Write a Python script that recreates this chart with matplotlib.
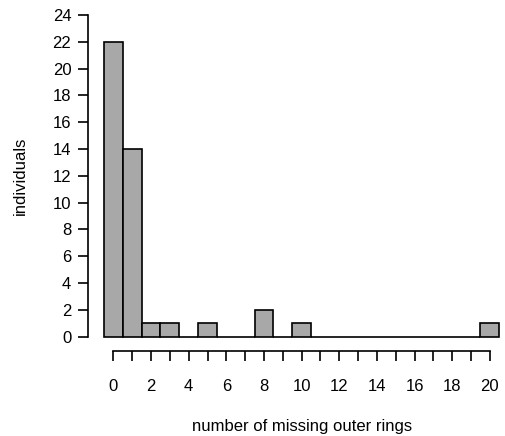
import matplotlib
matplotlib.use("Agg")
import matplotlib.pyplot as plt

# number of missing outer rings (bin centres) and individuals per bin
rings = list(range(21))
individuals = [22, 14, 1, 1, 0, 1, 0, 0, 2, 0, 1, 0, 0, 0, 0, 0, 0, 0, 0, 0, 1]
y_ticks = list(range(0, 25, 2))
x_ticks = list(range(0, 21))
x_labels = [str(v) if v % 2 == 0 else "" for v in x_ticks]

plt.rcParams["font.family"] = ["Liberation Sans", "DejaVu Sans"]

W, H = 505, 436
fig = plt.figure(figsize=(W / 100, H / 100), dpi=100)
left, right, top, bottom = 104, 499.3, 15, 336.7
ax = fig.add_axes([left / W, 1 - bottom / H, (right - left) / W, (bottom - top) / H])

ax.bar(rings, individuals, width=1.0, color="#A8A8A8", edgecolor="black",
       linewidth=1.2, clip_on=False)

ax.set_xlim(-0.5, 20.5)
ax.set_ylim(0, 24)

for s in ("top", "right"):
    ax.spines[s].set_visible(False)
ax.spines["left"].set_position(("outward", 11.5))
ax.spines["bottom"].set_position(("outward", 10.1))
ax.spines["left"].set_bounds(0, 24)
ax.spines["bottom"].set_bounds(0, 20)
for s in ("left", "bottom"):
    ax.spines[s].set_linewidth(1.2)

ax.set_yticks(y_ticks)
ax.set_xticks(x_ticks)
ax.set_xticklabels(x_labels)
ax.tick_params(axis="y", length=7, width=1.2, pad=5, labelsize=12)
ax.tick_params(axis="x", length=7.5, width=1.2, pad=12.5, labelsize=12)

ax.set_ylabel("individuals", fontsize=12, labelpad=18)
ax.set_xlabel("number of missing outer rings", fontsize=12, labelpad=18.5)

fig.savefig("out.png", dpi=100)
